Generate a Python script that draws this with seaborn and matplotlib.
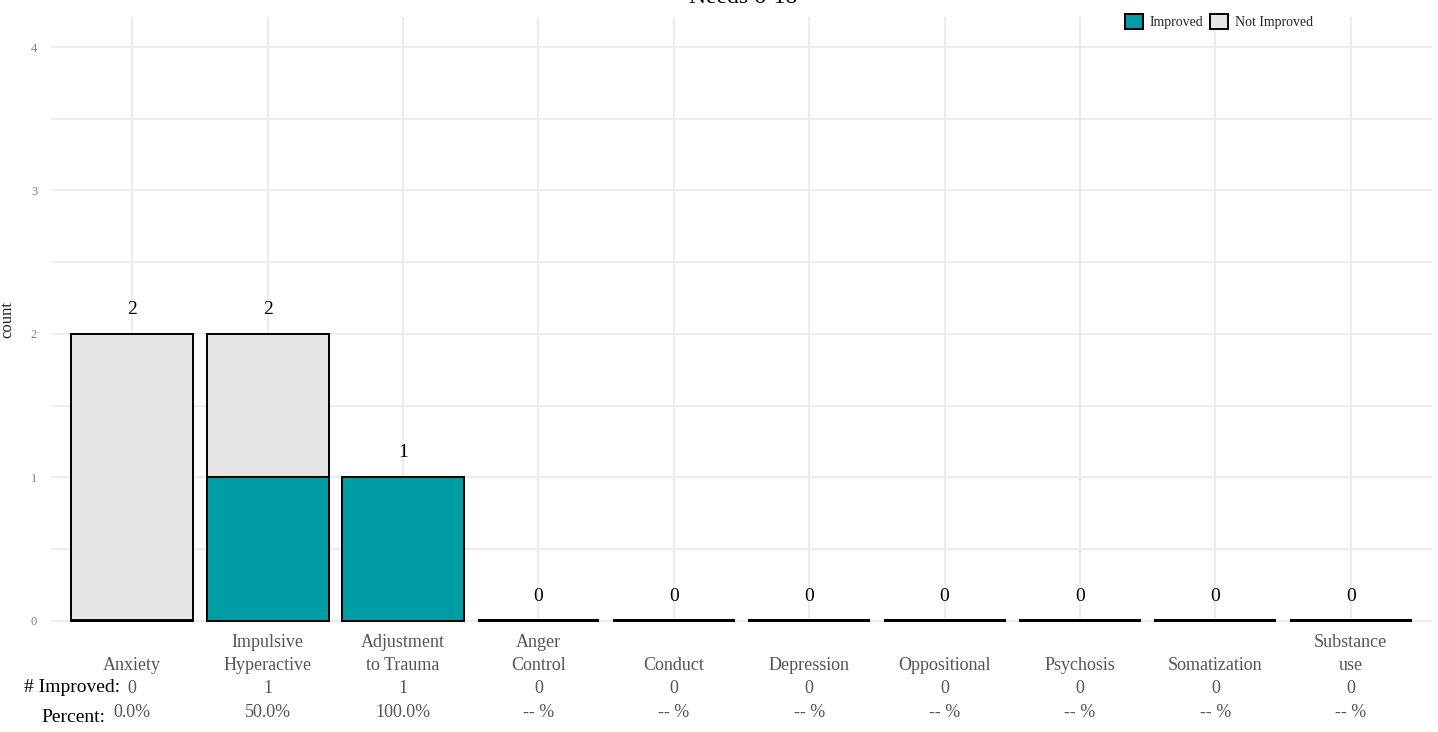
import matplotlib
matplotlib.use("Agg")
import matplotlib.pyplot as plt
import matplotlib.transforms as mtransforms
from matplotlib.patches import Patch
import numpy as np
import seaborn as sns

# datos
categories = ["Anxiety", "Impulsive\nHyperactive", "Adjustment\nto Trauma", "Anger\nControl",
              "Conduct", "Depression", "Oppositional", "Psychosis", "Somatization", "Substance\nuse"]
improved = [0, 1, 1, 0, 0, 0, 0, 0, 0, 0]
not_improved = [2, 1, 0, 0, 0, 0, 0, 0, 0, 0]
y_ticks = [0, 1, 2, 3, 4]

TEAL = "#009ca3"
LIGHT = "#e5e5e5"
GRID = "#ebebeb"
GRAY_TXT = "#555555"

sns.set_theme(style="white")
plt.rcParams["font.family"] = ["Liberation Serif", "DejaVu Serif"]

totals = [a + b for a, b in zip(improved, not_improved)]

fig = plt.figure(figsize=(14.38, 7.32), dpi=100)
ax = fig.add_axes([0.0355, 0.1503, 0.9603, 0.8265])

x_idx = np.arange(len(categories))

# rejilla
ax.set_axisbelow(True)
ax.set_yticks(y_ticks)
ax.set_yticks([0.5, 1.5, 2.5, 3.5], minor=True)
ax.grid(True, which="major", axis="both", color=GRID, linewidth=1.3)
ax.grid(True, which="minor", axis="y", color=GRID, linewidth=1.3)
for s in ax.spines.values():
    s.set_visible(False)

# barras apiladas: total (no mejorado encima) y luego mejorado
sns.barplot(x=x_idx, y=totals, color=LIGHT, saturation=1, edgecolor="black",
            linewidth=1.4, width=0.9, ax=ax, native_scale=True, errorbar=None)
sns.barplot(x=x_idx, y=improved, color=TEAL, saturation=1, edgecolor="black",
            linewidth=1.4, width=0.9, ax=ax, native_scale=True, errorbar=None)
for p in ax.patches:
    if p.get_height() == 0:
        p.set_linewidth(2.8)

ax.set_xlim(-0.6, len(categories) - 0.4)
ax.set_ylim(-0.01, 4.21)

# etiquetas de conteo
for i, t in enumerate(totals):
    ax.text(i, t + 0.17, str(t), ha="center", va="center", fontsize=14, color="black")

# ejes
ax.set_xticks(x_idx)
ax.set_xticklabels([])
ax.set_yticks(y_ticks)
ax.tick_params(axis="both", length=0)
ax.tick_params(axis="y", labelsize=9, labelcolor="#7f7f7f", pad=10)
ax.set_ylabel("count", fontsize=12)
ax.yaxis.set_label_coords(-0.026, 0.5)
ax.set_xlabel("")

# etiquetas inferiores (categoria / # mejorados / porcentaje)
trans = mtransforms.blended_transform_factory(ax.transData, ax.transAxes)
for i, (cat, imp, tot) in enumerate(zip(categories, improved, totals)):
    pct = f"{100 * imp / tot:.1f}%" if tot > 0 else "-- %"
    ax.text(i, -0.0793, cat, transform=trans, ha="center", va="baseline",
            fontsize=13, color=GRAY_TXT, linespacing=1.45)
    ax.text(i, -0.1174, str(imp), transform=trans, ha="center", va="baseline",
            fontsize=13, color=GRAY_TXT)
    ax.text(i, -0.157, pct, transform=trans, ha="center", va="baseline",
            fontsize=13, color=GRAY_TXT)

fig.text(120 / 1438, 1 - 688 / 732, "# Improved:", ha="right", va="center", fontsize=14, color="black")
fig.text(105 / 1438, 1 - 717 / 732, "Percent:", ha="right", va="center", fontsize=14, color="black")

# titulo (recortado arriba)
fig.text(743 / 1438, 1.004, "Needs 6-18", ha="center", va="center", fontsize=17, color="black")

# leyenda
handles = [Patch(facecolor=TEAL, edgecolor="black", linewidth=1.4, label="Improved"),
           Patch(facecolor=LIGHT, edgecolor="black", linewidth=1.4, label="Not Improved")]
fig.legend(handles=handles, loc="upper right", bbox_to_anchor=(1326 / 1438, 1 - 1 / 732),
           ncol=2, frameon=False, fontsize=10, handlelength=1.3, handleheight=1.3,
           columnspacing=0.5, handletextpad=0.5)

fig.savefig("out.png", dpi=100)
